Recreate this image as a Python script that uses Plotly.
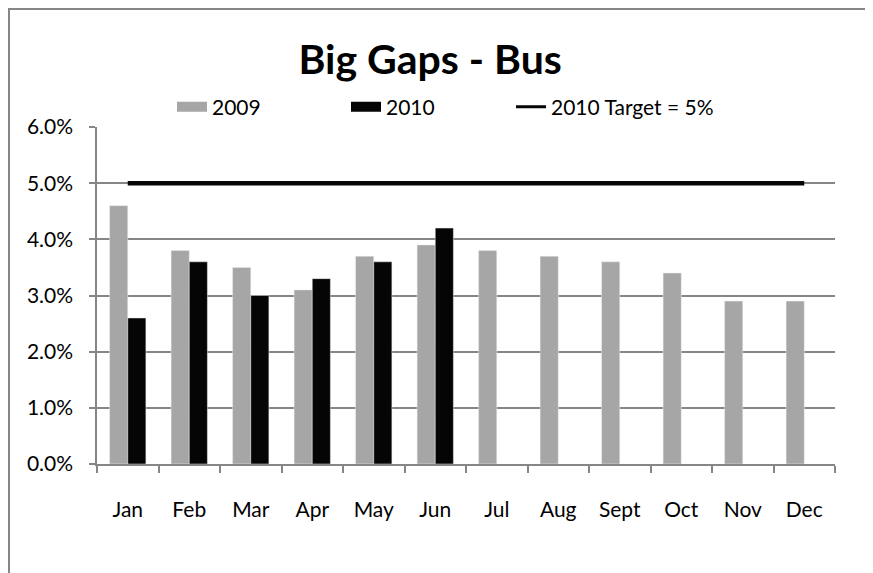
import plotly.graph_objects as go

# data
months = ["Jan", "Feb", "Mar", "Apr", "May", "Jun", "Jul", "Aug", "Sept", "Oct", "Nov", "Dec"]
gaps_2009 = [0.046, 0.038, 0.035, 0.031, 0.037, 0.039, 0.038, 0.037, 0.036, 0.034, 0.029, 0.029]
gaps_2010 = [0.026, 0.036, 0.030, 0.033, 0.036, 0.042, None, None, None, None, None, None]
target_2010 = [0.05] * 12

GREY = "#a6a6a6"
BLACK = "#050505"
AXIS = "#868686"
FONT = "Lato, Carlito, Calibri, sans-serif"

# page has an 8px body margin, so the figure is sized/offset for that
W, H = 865, 565
L, R, T, B = 89, 38, 119, 109
pw, ph = W - L - R, H - T - B

fig = go.Figure()

fig.add_trace(go.Bar(x=months, y=gaps_2009, name="2009", marker=dict(color=GREY), showlegend=False))
fig.add_trace(go.Bar(x=months, y=gaps_2010, name="2010", marker=dict(color=BLACK), showlegend=False))
fig.add_trace(go.Scatter(x=months, y=target_2010, mode="lines", name="2010 Target = 5%",
                         line=dict(color=BLACK, width=4.5), showlegend=False))

# legend entries (wide swatches like the original)
fig.add_trace(go.Scatter(x=[None], y=[None], mode="lines", name="2009", line=dict(color=GREY, width=12)))
fig.add_trace(go.Scatter(x=[None], y=[None], mode="lines", name="2010", line=dict(color=BLACK, width=12)))
fig.add_trace(go.Scatter(x=[None], y=[None], mode="lines", name="2010 Target = 5%",
                         line=dict(color=BLACK, width=3), legend="legend2"))

leg_y = (H - B - 99) / ph

fig.update_layout(
    width=W, height=H,
    margin=dict(l=L, r=R, t=T, b=B),
    paper_bgcolor="white", plot_bgcolor="white",
    font=dict(family=FONT, size=21, color="black"),
    title=dict(text="<b>Big Gaps - Bus</b>", font=dict(size=41, family=FONT, color="black"),
               x=0.488, xanchor="center", y=1 - 52 / H, yanchor="middle"),
    barmode="group", bargap=0.41, bargroupgap=0,
    legend=dict(orientation="h", x=(164 - L) / pw, xanchor="left", y=leg_y, yanchor="middle",
                entrywidth=129, entrywidthmode="pixels", font=dict(size=21), bgcolor="rgba(0,0,0,0)"),
    legend2=dict(orientation="h", x=(503 - L) / pw, xanchor="left", y=leg_y, yanchor="middle",
                 font=dict(size=21), bgcolor="rgba(0,0,0,0)"),
    xaxis=dict(showline=True, linecolor=AXIS, linewidth=1.5, ticks="outside", tickson="boundaries",
               ticklen=7, tickcolor=AXIS, tickwidth=1.5, showgrid=False, ticklabelstandoff=26,
               tickfont=dict(size=21)),
    yaxis=dict(range=[0, 0.06], dtick=0.01, tickformat=".1%", showline=True, linecolor=AXIS, linewidth=1.5,
               ticks="outside", ticklen=6, tickcolor=AXIS, tickwidth=1.5, showgrid=True, gridcolor=AXIS,
               gridwidth=1.5, zeroline=False, ticklabelstandoff=12, tickfont=dict(size=21)),
    shapes=[dict(type="rect", xref="paper", yref="paper",
                 x0=(1 - L) / pw, x1=(861 - L) / pw, y0=(H - B - 590) / ph, y1=(H - B - 1) / ph,
                 line=dict(color=AXIS, width=2), layer="below")],
)

fig.write_html("out.html")
